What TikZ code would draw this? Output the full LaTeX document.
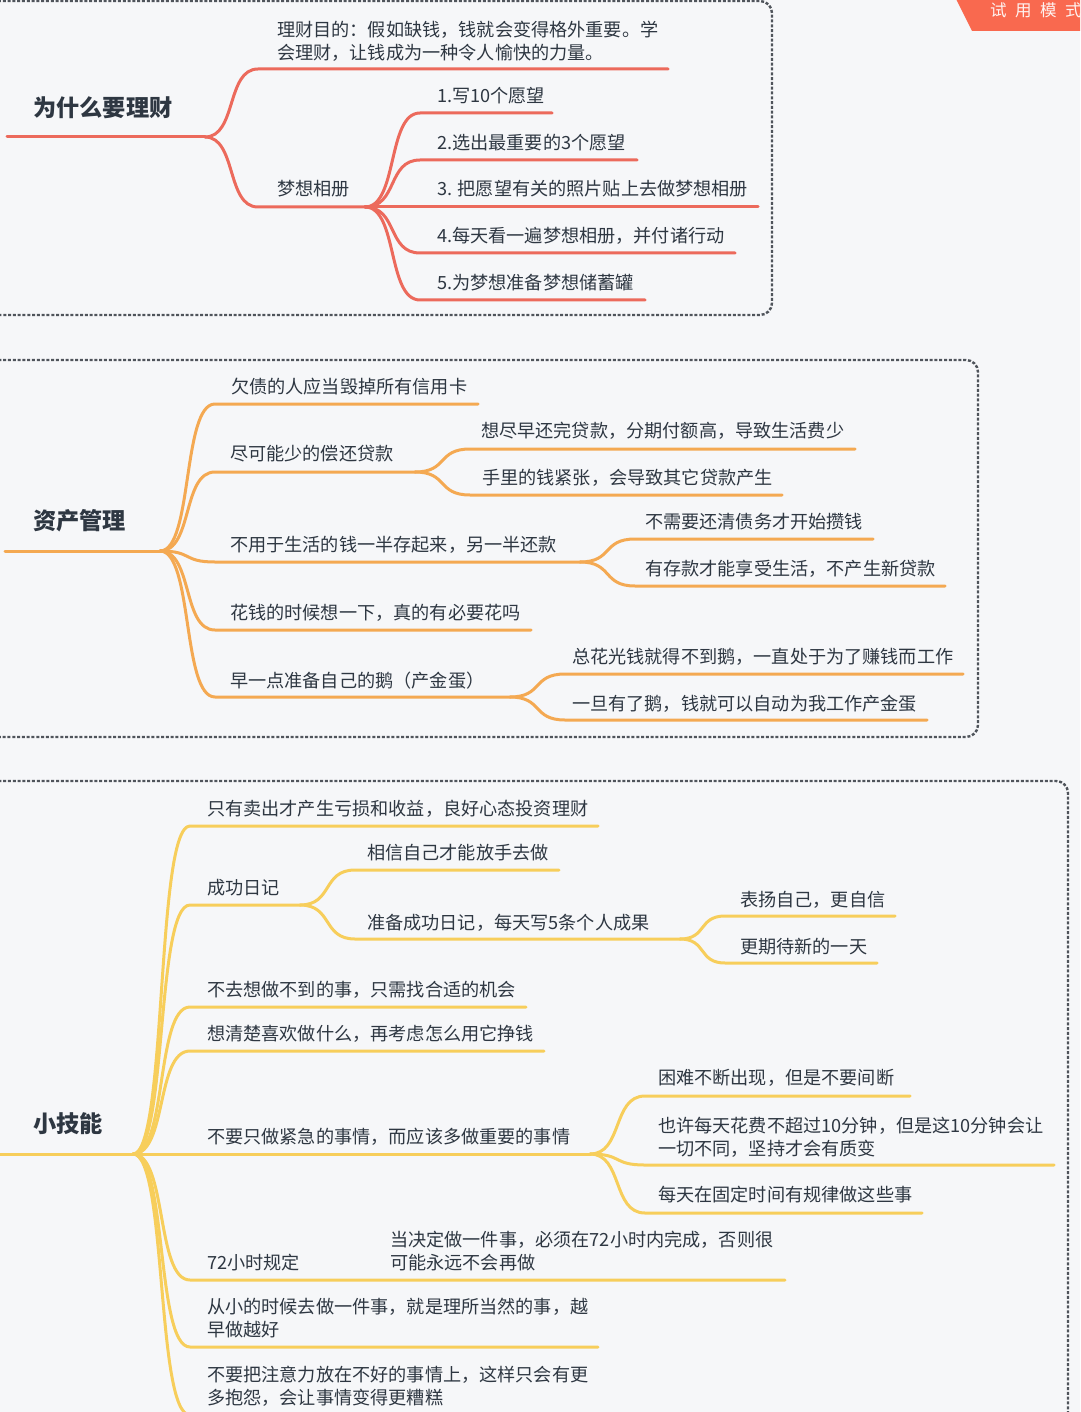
\documentclass[tikz,border=0pt]{standalone}
\usepackage{fontspec}
\setmainfont{Noto Sans CJK SC}
\usetikzlibrary{calc}
\definecolor{bgc}{HTML}{F6F7F9}
\definecolor{redc}{HTML}{EC6A5C}
\definecolor{orgc}{HTML}{F4A952}
\definecolor{yelc}{HTML}{F7CE5B}
\definecolor{ink}{HTML}{2E3742}
\definecolor{frm}{HTML}{4F545B}
\definecolor{ban}{HTML}{F9694F}
\tikzset{
  txt/.style={inner sep=0pt,align=left,anchor=west,text=ink,font=\fontsize{18.15}{23}\selectfont,yshift=-3pt},
  ttl/.style={inner sep=0pt,anchor=west,text=ink,font=\fontsize{23.2}{28}\selectfont\bfseries,yshift=0pt},
  frame/.style={draw=frm,line width=2.4pt,dash pattern=on 3pt off 1.8pt,rounded corners=12pt},
  lnk/.style={line width=3pt,line cap=round,line join=round},
}
\newcommand\curveto[2]{.. controls ($(#1)!0.6!(#1-|#2)$) and ($(#2)!0.6!(#2-|#1)$) .. (#2)}
% colour, parent, name, start x, y, end x
\newcommand\bran[6]{%
  \coordinate (#3s) at (#4,#5);
  \coordinate (#3e) at (#6,#5);
  \draw[lnk,#1] (#2) \curveto{#2}{#3s} -- (#3e);}
\newcommand\txt[4]{\node[txt] (#1) at (#2,#3) {#4};}
\begin{document}
\begin{tikzpicture}[x=1pt,y=-1pt]
\useasboundingbox (0,0) rectangle (1080,1412);
\fill[bgc] (0,0) rectangle (1080,1412);
% banner
\fill[ban] (956,-1) -- (972,31) -- (1080,31) -- (1080,-1) -- cycle;
\node[inner sep=0pt,anchor=west,text=white!92!ban,font=\fontsize{16.5}{20}\selectfont] (banner) at (990,10) {试\hspace{8.5pt}用\hspace{8.5pt}模\hspace{8.5pt}式};
% frames
\draw[frame] (-12,1) rectangle (772,315);
\draw[frame] (-12,360) rectangle (978,737);
\draw[frame] (-12,781) rectangle (1068,1440);

% ---------- 1
\coordinate (r1a) at (7,137); \coordinate (r1) at (205,137);
\draw[lnk,redc] (r1a) -- (r1);
\node[ttl] (t1) at (33,108) {为什么要理财};
\bran{redc}{r1}{a1}{258}{69}{668}
\bran{redc}{r1}{a2}{258}{207}{365}
\coordinate (j1) at (365,207);
\bran{redc}{j1}{b1}{420}{113}{552}
\bran{redc}{j1}{b2}{420}{160}{637}
\bran{redc}{j1}{b3}{420}{207}{758}
\bran{redc}{j1}{b4}{420}{253}{735}
\bran{redc}{j1}{b5}{420}{300}{645}
\txt{n1}{277}{40}{理财目的：假如缺钱，钱就会变得格外重要。学\strut\\会理财，让钱成为一种令人愉快的力量。\strut}
\txt{n2}{277}{188}{梦想相册\strut}
\txt{n3}{437}{95}{1.写10个愿望\strut}
\txt{n4}{437}{142}{2.选出最重要的3个愿望\strut}
\txt{n5}{437}{188}{3. 把愿望有关的照片贴上去做梦想相册\strut}
\txt{n6}{437}{235}{4.每天看一遍梦想相册，并付诸行动\strut}
\txt{n7}{437}{282}{5.为梦想准备梦想储蓄罐\strut}

% ---------- 2
\coordinate (r2a) at (5,551); \coordinate (r2) at (160,551);
\draw[lnk,orgc] (r2a) -- (r2);
\node[ttl] (t2) at (33,521) {资产管理};
\bran{orgc}{r2}{c1}{215}{404}{478}
\bran{orgc}{r2}{c2}{215}{472}{415}
\bran{orgc}{r2}{c3}{215}{562}{580}
\bran{orgc}{r2}{c4}{215}{630}{531}
\bran{orgc}{r2}{c5}{215}{697}{510}
\coordinate (j2) at (415,472);
\coordinate (j3) at (580,562);
\coordinate (j4) at (510,697);
\bran{orgc}{j2}{d1}{470}{449}{855}
\bran{orgc}{j2}{d2}{470}{495}{782}
\bran{orgc}{j3}{d3}{635}{539}{873}
\bran{orgc}{j3}{d4}{635}{586}{945}
\bran{orgc}{j4}{d5}{565}{674}{963}
\bran{orgc}{j4}{d6}{565}{720}{927}
\txt{m1}{231}{386}{欠债的人应当毁掉所有信用卡\strut}
\txt{m2}{230}{453}{尽可能少的偿还贷款\strut}
\txt{m3}{481}{430}{想尽早还完贷款，分期付额高，导致生活费少\strut}
\txt{m4}{482}{477}{手里的钱紧张，会导致其它贷款产生\strut}
\txt{m5}{230}{544}{不用于生活的钱一半存起来，另一半还款\strut}
\txt{m6}{645}{521}{不需要还清债务才开始攒钱\strut}
\txt{m7}{645}{568}{有存款才能享受生活，不产生新贷款\strut}
\txt{m8}{230}{612}{花钱的时候想一下，真的有必要花吗\strut}
\txt{m9}{230}{680}{早一点准备自己的鹅（产金蛋）\strut}
\txt{m10}{572}{656}{总花光钱就得不到鹅，一直处于为了赚钱而工作\strut}
\txt{m11}{572}{703}{一旦有了鹅，钱就可以自动为我工作产金蛋\strut}

% ---------- 3
\coordinate (r3a) at (0,1154); \coordinate (r3) at (133,1154);
\draw[lnk,yelc] (r3a) -- (r3);
\node[ttl] (t3) at (33,1124) {小技能};
\bran{yelc}{r3}{e1}{190}{826}{598}
\bran{yelc}{r3}{e2}{190}{905}{300}
\bran{yelc}{r3}{e3}{190}{1007}{526}
\bran{yelc}{r3}{e4}{190}{1051}{544}
\bran{yelc}{r3}{e5}{190}{1154}{590}
\bran{yelc}{r3}{e6}{190}{1280}{785}
\bran{yelc}{r3}{e7}{190}{1347}{598}
\bran{yelc}{r3}{e8}{190}{1415}{598}
\coordinate (j5) at (300,905);
\coordinate (j6) at (680,939);
\coordinate (j7) at (590,1154);
\bran{yelc}{j5}{f1}{355}{870}{559}
\bran{yelc}{j5}{f2}{355}{939}{680}
\bran{yelc}{j6}{f3}{725}{916}{895}
\bran{yelc}{j6}{f4}{725}{963}{877}
\bran{yelc}{j7}{f5}{645}{1096}{910}
\bran{yelc}{j7}{f6}{645}{1165}{1054}
\bran{yelc}{j7}{f7}{645}{1213}{922}
\txt{k1}{207}{808}{只有卖出才产生亏损和收益，良好心态投资理财\strut}
\txt{k2}{207}{887}{成功日记\strut}
\txt{k3}{367}{852}{相信自己才能放手去做\strut}
\txt{k4}{367}{922}{准备成功日记，每天写5条个人成果\strut}
\txt{k5}{740}{899}{表扬自己，更自信\strut}
\txt{k6}{740}{946}{更期待新的一天\strut}
\txt{k7}{207}{989}{不去想做不到的事，只需找合适的机会\strut}
\txt{k8}{207}{1033}{想清楚喜欢做什么，再考虑怎么用它挣钱\strut}
\txt{k9}{207}{1136}{不要只做紧急的事情，而应该多做重要的事情\strut}
\txt{k10}{658}{1077}{困难不断出现，但是不要间断\strut}
\txt{k11}{658}{1136}{也许每天花费不超过10分钟，但是这10分钟会让\strut\\一切不同，坚持才会有质变\strut}
\txt{k12}{658}{1194}{每天在固定时间有规律做这些事\strut}
\txt{k13}{207}{1262}{72小时规定\strut}
\txt{k14}{390}{1250}{当决定做一件事，必须在72小时内完成，否则很\strut\\可能永远不会再做\strut}
\txt{k15}{207}{1317}{从小的时候去做一件事，就是理所当然的事，越\strut\\早做越好\strut}
\txt{k16}{207}{1385}{不要把注意力放在不好的事情上，这样只会有更\strut\\多抱怨，会让事情变得更糟糕\strut}
\end{tikzpicture}
\end{document}
